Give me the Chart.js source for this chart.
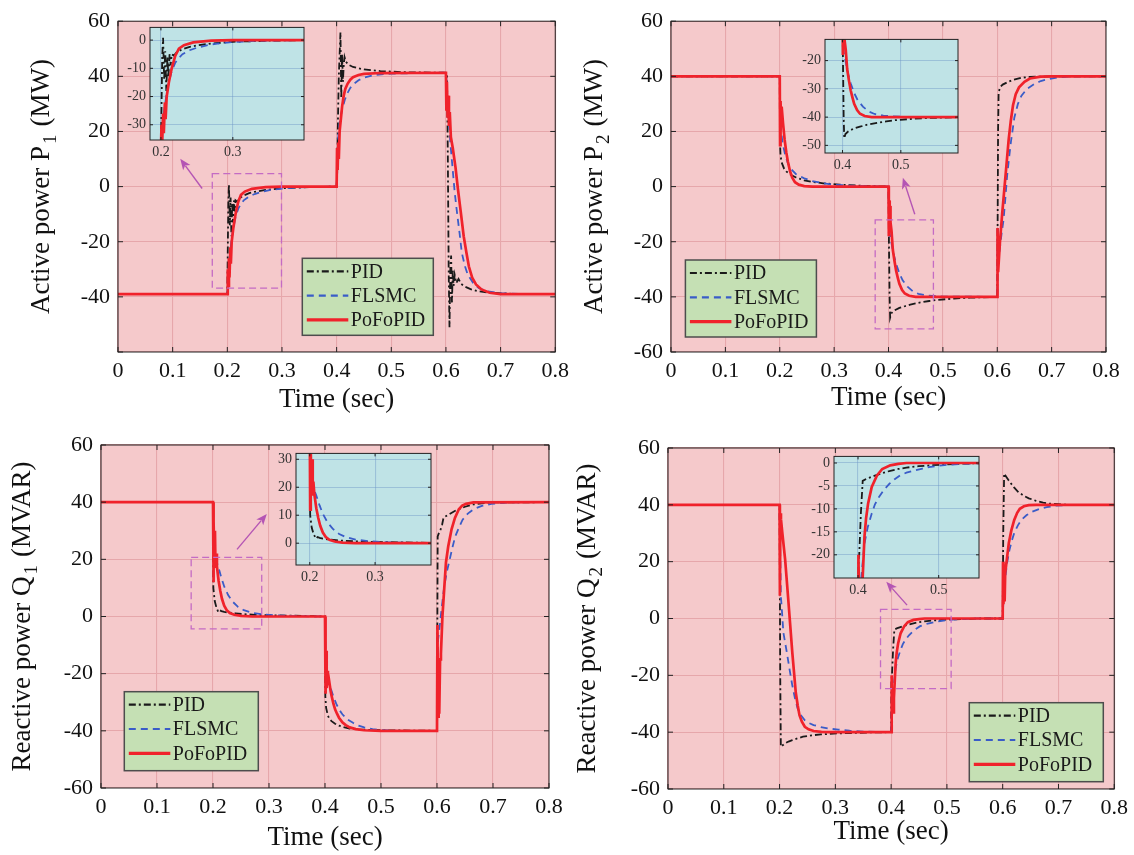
<!DOCTYPE html>
<html>
<head>
<meta charset="utf-8">
<title>Active / reactive power responses</title>
<script src="https://cdn.jsdelivr.net/npm/chart.js@4.4.1/dist/chart.umd.min.js"></script>
<style>
    html, body { margin: 0; padding: 0; background: #fff; }
    #wrap { position: relative; width: 1134px; height: 855px; overflow: hidden; }
    #wrap canvas { position: absolute; }
</style>
</head>
<body>
<div id="wrap">
    <canvas id="p1"></canvas>
    <canvas id="p2"></canvas>
    <canvas id="q1"></canvas>
    <canvas id="q2"></canvas>
    <canvas id="p1i"></canvas>
    <canvas id="p2i"></canvas>
    <canvas id="q1i"></canvas>
    <canvas id="q2i"></canvas>
</div>
<script>
// ========================================
// DATA
// ========================================
const SERIES_NAMES = ['PID', 'FLSMC', 'PoFoPID'];

const TIME_TICKS = [0, 0.1, 0.2, 0.3, 0.4, 0.5, 0.6, 0.7, 0.8];
const TIME_LABELS = ['0', '0.1', '0.2', '0.3', '0.4', '0.5', '0.6', '0.7', '0.8'];
const POWER_TICKS = [-60, -40, -20, 0, 20, 40, 60];
const POWER_LABELS = ['-60', '-40', '-20', '0', '20', '40', '60'];
const POWER_LABELS_P1 = ['', '-40', '-20', '0', '20', '40', '60'];

// Active power P1 (MW)
const P1_PID = [[0,-39],[0.2,-39],[0.2008,-24],[0.2018,-6],[0.203,0.8],[0.2045,-14],[0.206,-4],[0.2075,-18],[0.209,-6],[0.2105,-13],[0.212,-5],[0.2135,-9],[0.215,-5],[0.218,-5.5],[0.222,-4.3],[0.23,-3.2],[0.24,-2.4],[0.25,-1.9],[0.27,-1.2],[0.3,-0.6],[0.35,-0.2],[0.4,0],
    [0.401,5],[0.4025,25],[0.404,40],[0.407,56],[0.4085,32],[0.41,48],[0.4115,38],[0.413,44],[0.4145,47],[0.417,45.3],[0.422,44.2],[0.43,43.4],[0.45,42.5],[0.48,41.9],[0.52,41.5],[0.6,41.3],
    [0.602,40],[0.6035,10],[0.605,-30],[0.6065,-51],[0.608,-30],[0.6095,-25],[0.611,-42],[0.6125,-30],[0.614,-36],[0.616,-32],[0.619,-35],[0.623,-33.5],[0.628,-35.3],[0.635,-36.3],[0.645,-37.2],[0.66,-38],[0.68,-38.5],[0.72,-38.9],[0.8,-39]];
const P1_FLSMC = [[0,-39],[0.2,-39],[0.201,-34],[0.203,-29],[0.205,-24],[0.208,-19],[0.211,-15],[0.215,-11],[0.22,-8],[0.225,-6.3],[0.23,-5],[0.24,-3.6],[0.25,-2.7],[0.265,-1.8],[0.28,-1.2],[0.3,-0.7],[0.33,-0.3],[0.37,-0.1],[0.4,0],
    [0.401,8],[0.403,18],[0.406,24],[0.41,28],[0.415,31.5],[0.42,34],[0.425,35.8],[0.43,37],[0.44,38.6],[0.45,39.5],[0.47,40.5],[0.5,41],[0.55,41.2],[0.6,41.3],
    [0.601,38],[0.604,28],[0.608,16],[0.612,7],[0.616,-2],[0.62,-9],[0.625,-17],[0.629,-24],[0.635,-29],[0.64,-32],[0.65,-35],[0.66,-36.8],[0.675,-38],[0.7,-38.7],[0.74,-39],[0.8,-39]];
const P1_POFOPID = [[0,-39],[0.2,-39],[0.2008,-30],[0.2018,-36],[0.203,-26],[0.204,-33],[0.2055,-22],[0.2065,-28],[0.208,-20],[0.211,-15],[0.215,-10],[0.22,-5.5],[0.225,-3],[0.232,-1.8],[0.245,-0.8],[0.27,-0.2],[0.3,0],[0.4,0],
    [0.4008,14],[0.4018,6],[0.403,16],[0.404,10],[0.4055,20],[0.408,25],[0.41,29],[0.413,33],[0.416,35.5],[0.42,37.3],[0.425,38.8],[0.43,39.7],[0.44,40.5],[0.45,40.9],[0.48,41.2],[0.6,41.3],
    [0.6008,28],[0.6018,38],[0.603,25],[0.6042,33],[0.6055,22],[0.607,27],[0.609,18],[0.6125,14],[0.6175,7],[0.622,-1],[0.627,-9],[0.6325,-18],[0.6375,-24],[0.642,-29],[0.648,-33],[0.655,-35.5],[0.665,-37.3],[0.68,-38.5],[0.7,-39],[0.8,-39]];

// Active power P2 (MW)
const P2_PID = [[0,40],[0.2,40],[0.2004,16],[0.2015,11],[0.204,8.5],[0.208,6.5],[0.212,5.5],[0.22,4.3],[0.23,3.3],[0.245,2.3],[0.26,1.7],[0.28,1.2],[0.31,0.7],[0.35,0.3],[0.4,0],
    [0.4008,-20],[0.402,-40],[0.403,-47.5],[0.405,-46],[0.41,-45],[0.42,-44],[0.43,-43.4],[0.44,-42.8],[0.457,-42.1],[0.475,-41.5],[0.49,-41.1],[0.52,-40.6],[0.55,-40.3],[0.6,-40],
    [0.6008,-10],[0.6015,20],[0.6025,34],[0.605,36],[0.61,37],[0.62,38],[0.63,38.8],[0.645,39.5],[0.66,39.8],[0.7,40],[0.8,40]];
const P2_FLSMC = [[0,40],[0.2,40],[0.2008,30],[0.202,21],[0.205,16],[0.21,11.5],[0.215,8.5],[0.22,6.5],[0.23,4.5],[0.245,3],[0.26,2],[0.28,1.2],[0.3,0.7],[0.33,0.3],[0.37,0.1],[0.4,0],
    [0.4008,-10],[0.402,-17],[0.404,-19],[0.407,-22],[0.41,-25],[0.414,-28],[0.42,-31.5],[0.426,-34],[0.435,-36.3],[0.445,-38],[0.455,-38.9],[0.47,-39.5],[0.5,-39.9],[0.6,-40],
    [0.6008,-15],[0.602,-27],[0.605,-22],[0.608,-17],[0.6116,-12],[0.615,-4],[0.6182,4],[0.6215,10],[0.625,16],[0.6314,25],[0.638,30],[0.6446,33],[0.655,35.5],[0.668,37.2],[0.68,38.3],[0.694,39],[0.71,39.6],[0.74,40],[0.8,40]];
const P2_POFOPID = [[0,40],[0.2,40],[0.2006,15],[0.2015,31],[0.2025,22],[0.2035,29],[0.206,23],[0.209,17],[0.212,12.5],[0.215,9],[0.219,5.5],[0.223,3.2],[0.228,1.6],[0.235,0.7],[0.245,0.2],[0.26,0],[0.4,0],
    [0.4006,-18],[0.4014,-5],[0.4022,-16],[0.403,-7],[0.4037,-13],[0.4055,-16],[0.408,-23],[0.411,-27],[0.414,-30.5],[0.417,-33],[0.42,-35.3],[0.425,-37.5],[0.43,-38.8],[0.438,-39.6],[0.45,-40],[0.6,-40],
    [0.6005,-15],[0.6016,-31],[0.605,-20],[0.609,-10],[0.613,-1],[0.617,8],[0.621,17],[0.625,24],[0.629,29.5],[0.634,33.5],[0.64,36],[0.65,38],[0.66,39.2],[0.68,39.9],[0.7,40],[0.8,40]];

// Reactive power Q1 (MVAR)
const Q1_PID = [[0,40],[0.2,40],[0.2006,10],[0.203,5.5],[0.206,3.2],[0.2094,1.6],[0.212,2.2],[0.215,1.9],[0.22,1.6],[0.227,1.4],[0.24,1.1],[0.255,0.8],[0.275,0.6],[0.3,0.45],[0.34,0.3],[0.38,0.1],[0.4,0],
    [0.4006,-28],[0.402,-32],[0.4052,-34.7],[0.408,-35.8],[0.4117,-36.6],[0.418,-37.5],[0.425,-38.2],[0.435,-38.8],[0.444,-39.2],[0.46,-39.5],[0.5,-39.8],[0.6,-40],
    [0.6006,-5],[0.6012,28],[0.603,29],[0.6065,30.5],[0.609,32],[0.6117,34.6],[0.62,35.6],[0.6325,37],[0.65,38.4],[0.665,39.2],[0.68,39.6],[0.7,39.9],[0.8,40]];
const Q1_FLSMC = [[0,40],[0.2,40],[0.2012,30],[0.203,22],[0.205,20],[0.21,17],[0.215,13.5],[0.22,10.5],[0.227,7.5],[0.235,5.2],[0.245,3.3],[0.255,2.2],[0.27,1.3],[0.29,0.7],[0.32,0.3],[0.36,0.1],[0.4,0],
    [0.4008,-12],[0.402,-18],[0.405,-22],[0.41,-25],[0.415,-28],[0.42,-30.5],[0.425,-32.5],[0.431,-34.2],[0.44,-36],[0.45,-37.2],[0.46,-38.2],[0.47,-38.8],[0.485,-39.4],[0.5,-39.7],[0.53,-40],[0.6,-40],
    [0.6008,-20],[0.602,-8],[0.605,-3],[0.609,4],[0.613,10.7],[0.618,16],[0.6227,20],[0.628,24.5],[0.6325,28],[0.64,31.5],[0.6455,33.8],[0.655,36],[0.665,37.5],[0.68,38.7],[0.697,39.4],[0.72,39.8],[0.75,40],[0.8,40]];
const Q1_POFOPID = [[0,40],[0.2,40],[0.2006,12],[0.2015,33],[0.2025,20],[0.2035,30],[0.2045,17],[0.2055,22],[0.207,17.5],[0.21,12.5],[0.213,9],[0.216,6.2],[0.22,3.8],[0.2245,2.2],[0.23,1.2],[0.238,0.6],[0.25,0.2],[0.27,0],[0.4,0],
    [0.4006,-8],[0.4014,-27],[0.4022,-12],[0.403,-25],[0.404,-19],[0.4052,-23],[0.407,-22],[0.41,-26],[0.4117,-27.7],[0.415,-30.5],[0.418,-32.5],[0.4214,-34],[0.425,-35.4],[0.431,-37],[0.437,-38],[0.444,-38.8],[0.455,-39.4],[0.47,-39.8],[0.5,-40],[0.6,-40],
    [0.6008,-3],[0.6018,-35],[0.603,-20],[0.604,-34],[0.6055,-15],[0.607,-13],[0.6097,0],[0.613,10],[0.616,18.9],[0.62,24.5],[0.626,30.5],[0.632,34.5],[0.639,37.5],[0.645,38.8],[0.652,39.4],[0.665,39.9],[0.8,40]];

// Reactive power Q2 (MVAR)
const Q2_PID = [[0,40],[0.2,40],[0.2012,-20],[0.2023,-45.1],[0.205,-44.7],[0.21,-43.9],[0.216,-43.3],[0.2228,-42.8],[0.232,-42.2],[0.242,-41.6],[0.258,-41.1],[0.274,-40.8],[0.29,-40.6],[0.306,-40.4],[0.33,-40.3],[0.36,-40.1],[0.4,-40],
    [0.4005,-22],[0.4015,-20],[0.4035,-11],[0.4058,-3.9],[0.41,-3.5],[0.42,-2.8],[0.43,-2.2],[0.44,-1.7],[0.45,-1.3],[0.46,-1],[0.475,-0.7],[0.49,-0.5],[0.51,-0.3],[0.53,-0.15],[0.56,0],[0.6,0],
    [0.601,30],[0.6026,51],[0.606,50],[0.61,48.8],[0.6146,47.6],[0.62,46.2],[0.6275,44.6],[0.637,43.3],[0.6468,42.3],[0.66,41.4],[0.6725,40.8],[0.685,40.4],[0.7,40.2],[0.72,40],[0.8,40]];
const Q2_FLSMC = [[0,40],[0.2,40],[0.2023,8],[0.2045,2],[0.2068,-4.9],[0.21,-8.5],[0.213,-11.9],[0.218,-18],[0.2228,-23.5],[0.2275,-28],[0.2325,-31.7],[0.239,-34.2],[0.2453,-35.8],[0.253,-36.8],[0.261,-37.5],[0.274,-38.2],[0.287,-38.7],[0.305,-39.1],[0.3256,-39.5],[0.35,-39.8],[0.4,-40],
    [0.4015,-30],[0.404,-25],[0.408,-17.5],[0.412,-14],[0.417,-11],[0.421,-9],[0.426,-7.4],[0.432,-5.9],[0.439,-4.5],[0.445,-3.6],[0.452,-2.7],[0.46,-2.1],[0.47,-1.6],[0.48,-1.2],[0.488,-0.9],[0.5,-0.6],[0.51,-0.4],[0.53,-0.2],[0.56,0],[0.6,0],
    [0.602,10],[0.605,15],[0.6079,19.6],[0.612,24],[0.6165,27.5],[0.6207,30.1],[0.627,32.7],[0.6336,34.7],[0.643,36.4],[0.653,37.6],[0.665,38.5],[0.679,39.2],[0.695,39.7],[0.711,39.9],[0.75,40],[0.8,40]];
const Q2_POFOPID = [[0,40],[0.2,40],[0.2006,8],[0.2015,37],[0.2025,35],[0.205,30],[0.21,20.7],[0.2165,4.4],[0.2228,-11.9],[0.229,-25.9],[0.2325,-30.5],[0.2357,-34],[0.24,-36.3],[0.2453,-38.1],[0.252,-39],[0.261,-39.6],[0.275,-39.9],[0.29,-40],[0.4,-40],
    [0.4005,-20],[0.4015,-34],[0.4025,-28],[0.4035,-33],[0.405,-28],[0.4065,-22],[0.408,-16],[0.41,-12],[0.4125,-8.8],[0.417,-5.2],[0.4235,-2.7],[0.43,-1.3],[0.44,-0.5],[0.45,-0.2],[0.46,0],[0.6,0],
    [0.6006,20],[0.6014,5],[0.6025,13],[0.6035,6],[0.6045,16],[0.611,26.6],[0.6155,31],[0.6207,34.7],[0.626,37.2],[0.6307,38.6],[0.638,39.5],[0.6468,39.9],[0.66,40],[0.8,40]];

// Inset axes: visible window and ticks
const P1_INSET_X = [0.1848, 0.399];
const P1_INSET_Y = [-35.4, 4.5];
const P2_INSET_X = [0.37, 0.598];
const P2_INSET_Y = [-52.7, -12.5];
const Q1_INSET_X = [0.1789, 0.3856];
const Q1_INSET_Y = [-7.8, 32.1];
const Q2_INSET_X = [0.3702, 0.55];
const Q2_INSET_Y = [-25.05, 1.44];

const INSET_X_TICKS_A = [0.2, 0.3];
const INSET_X_LABELS_A = ['0.2', '0.3'];
const INSET_X_TICKS_B = [0.4, 0.5];
const INSET_X_LABELS_B = ['0.4', '0.5'];
const P1_INSET_TICKS = [-30, -20, -10, 0];
const P1_INSET_LABELS = ['-30', '-20', '-10', '0'];
const P2_INSET_TICKS = [-50, -40, -30, -20];
const P2_INSET_LABELS = ['-50', '-40', '-30', '-20'];
const Q1_INSET_TICKS = [0, 10, 20, 30];
const Q1_INSET_LABELS = ['0', '10', '20', '30'];
const Q2_INSET_TICKS = [-20, -15, -10, -5, 0];
const Q2_INSET_LABELS = ['-20', '-15', '-10', '-5', '0'];

// Dashed zoom boxes [x0, x1, y0, y1] and arrows [x0, y0, x1, y1], data units
const P1_ZOOM_BOX = [0.1725, 0.2991, -36.8, 4.7];
const P1_ARROW = [0.1539, -0.7, 0.1139, 10.1];
const P2_ZOOM_BOX = [0.3755, 0.4826, -51.6, -12.1];
const P2_ARROW = [0.4483, -10, 0.4264, 3.2];
const Q1_ZOOM_BOX = [0.161, 0.287, -4.3, 20.7];
const Q1_ARROW = [0.2429, 23.5, 0.2961, 35.9];
const Q2_ZOOM_BOX = [0.381, 0.5076, -24.7, 3.2];
const Q2_ARROW = [0.4286, 4.7, 0.3913, 12.9];

// ========================================
// STYLE
// ========================================
const SERIF = '"Liberation Serif", "Times New Roman", serif';
const LINE_STYLES = [
    { color: '#1a1a1a', width: 1.8, dash: [7, 3, 2, 3] },
    { color: '#3a5cc8', width: 1.8, dash: [7, 5] },
    { color: '#f0222b', width: 2.7, dash: [] }
];
const PLOT_BG = '#f5c9cb';
const PLOT_GRID = '#e6a7ab';
const INSET_BG = '#bfe3e6';
const INSET_GRID = 'rgba(110, 150, 200, 0.45)';
const ZOOM_COLOR = '#c46bc4';
const ARROW_COLOR = '#b455b4';

// per-canvas decoration settings, filled by the builders
const DECOR = {};

// ========================================
// PLUGIN: background, frame, inward ticks, zoom box, arrow, legend, y title
// ========================================
const decorPlugin = {
    id: 'decor',
    beforeDraw(chart) {
        const d = DECOR[chart.canvas.id];
        const a = chart.chartArea;
        const ctx = chart.ctx;
        ctx.save();
        ctx.fillStyle = d.bg;
        ctx.fillRect(a.left, a.top, a.right - a.left, a.bottom - a.top);
        ctx.restore();
    },
    afterDatasetsDraw(chart) {
        const d = DECOR[chart.canvas.id];
        const a = chart.chartArea;
        const ctx = chart.ctx;
        const sx = chart.scales.x;
        const sy = chart.scales.y;

        ctx.save();
        // frame
        ctx.strokeStyle = '#222';
        ctx.lineWidth = 1;
        ctx.setLineDash([]);
        ctx.strokeRect(a.left, a.top, a.right - a.left, a.bottom - a.top);

        // inward tick marks on all four sides
        const tl = d.tickLen;
        ctx.beginPath();
        sx.ticks.forEach(t => {
            const px = sx.getPixelForValue(t.value);
            ctx.moveTo(px, a.bottom); ctx.lineTo(px, a.bottom - tl);
            ctx.moveTo(px, a.top); ctx.lineTo(px, a.top + tl);
        });
        sy.ticks.forEach(t => {
            const py = sy.getPixelForValue(t.value);
            ctx.moveTo(a.left, py); ctx.lineTo(a.left + tl, py);
            ctx.moveTo(a.right, py); ctx.lineTo(a.right - tl, py);
        });
        ctx.stroke();

        // dashed zoom box
        if (d.zoomBox) {
            const [x0, x1, y0, y1] = d.zoomBox;
            const l = sx.getPixelForValue(x0), r = sx.getPixelForValue(x1);
            const t = sy.getPixelForValue(y1), b = sy.getPixelForValue(y0);
            ctx.strokeStyle = ZOOM_COLOR;
            ctx.lineWidth = 1.3;
            ctx.setLineDash([7, 4]);
            ctx.strokeRect(l, t, r - l, b - t);
            ctx.setLineDash([]);
        }

        // arrow pointing to the inset
        if (d.arrow) {
            const [ax0, ay0, ax1, ay1] = d.arrow;
            const p0x = sx.getPixelForValue(ax0), p0y = sy.getPixelForValue(ay0);
            const p1x = sx.getPixelForValue(ax1), p1y = sy.getPixelForValue(ay1);
            const ang = Math.atan2(p1y - p0y, p1x - p0x);
            const len = 11, half = 4.5;
            ctx.strokeStyle = ARROW_COLOR;
            ctx.fillStyle = ARROW_COLOR;
            ctx.lineWidth = 1.4;
            ctx.beginPath();
            ctx.moveTo(p0x, p0y);
            ctx.lineTo(p1x - Math.cos(ang) * len * 0.8, p1y - Math.sin(ang) * len * 0.8);
            ctx.stroke();
            ctx.beginPath();
            ctx.moveTo(p1x, p1y);
            ctx.lineTo(p1x - Math.cos(ang) * len + Math.sin(ang) * half, p1y - Math.sin(ang) * len - Math.cos(ang) * half);
            ctx.lineTo(p1x - Math.cos(ang) * len * 0.75, p1y - Math.sin(ang) * len * 0.75);
            ctx.lineTo(p1x - Math.cos(ang) * len - Math.sin(ang) * half, p1y - Math.sin(ang) * len + Math.cos(ang) * half);
            ctx.closePath();
            ctx.fill();
        }

        // legend box
        if (d.legend) {
            const [lx, ly, lw, lh] = d.legend;
            ctx.fillStyle = '#c5e0b4';
            ctx.fillRect(lx, ly, lw, lh);
            ctx.strokeStyle = '#4d4d4d';
            ctx.lineWidth = 1.5;
            ctx.strokeRect(lx, ly, lw, lh);
            ctx.font = '20px ' + SERIF;
            ctx.textBaseline = 'middle';
            ctx.textAlign = 'left';
            SERIES_NAMES.forEach((name, i) => {
                const st = LINE_STYLES[i];
                const yy = ly + 13 + i * 24.3;
                ctx.strokeStyle = st.color;
                ctx.lineWidth = st.width + (i === 2 ? 0.6 : 0.4);
                ctx.setLineDash(st.dash);
                ctx.beginPath();
                ctx.moveTo(lx + 4.5, yy);
                ctx.lineTo(lx + 46, yy);
                ctx.stroke();
                ctx.setLineDash([]);
                ctx.fillStyle = '#1a1a1a';
                ctx.fillText(name, lx + 48.5, yy + 1);
            });
        }
        ctx.restore();
    },
    afterDraw(chart) {
        const d = DECOR[chart.canvas.id];
        if (!d.yTitle) return;
        const a = chart.chartArea;
        const ctx = chart.ctx;
        const [main, sub, unit, dx] = d.yTitle;
        const big = '27px ' + SERIF;
        const small = '19px ' + SERIF;
        ctx.save();
        ctx.translate(a.left - dx, (a.top + a.bottom) / 2);
        ctx.rotate(-Math.PI / 2);
        ctx.fillStyle = '#111';
        ctx.textBaseline = 'middle';
        ctx.textAlign = 'left';
        ctx.font = big;
        const w1 = ctx.measureText(main).width;
        const w3 = ctx.measureText(unit).width;
        ctx.font = small;
        const w2 = ctx.measureText(sub).width;
        let x = -(w1 + 2 + w2 + 8 + w3) / 2;
        ctx.font = big;
        ctx.fillText(main, x, 0);
        x += w1 + 2;
        ctx.font = small;
        ctx.fillText(sub, x, 9);
        x += w2 + 8;
        ctx.font = big;
        ctx.fillText(unit, x, 0);
        ctx.restore();
    }
};

// ========================================
// BUILDERS
// ========================================
function toPoints(pairs) {
    return pairs.map(p => ({ x: p[0], y: p[1] }));
}

function makeDatasets(series) {
    return series.map((pairs, i) => ({
        label: SERIES_NAMES[i],
        data: toPoints(pairs),
        borderColor: LINE_STYLES[i].color,
        borderWidth: LINE_STYLES[i].width,
        borderDash: LINE_STYLES[i].dash,
        pointRadius: 0,
        tension: 0,
        fill: false,
        order: 2 - i
    }));
}

function placeCanvas(id, box) {
    const c = document.getElementById(id);
    c.style.left = box[0] + 'px';
    c.style.top = box[1] + 'px';
    c.width = box[2];
    c.height = box[3];
    return c;
}

// box: [left, top, width, height] of canvas, area: [left, top, right, bottom] of plot, page px
function buildChart(id, cfg) {
    const box = cfg.box, area = cfg.area;
    const c = placeCanvas(id, box);
    const yWidth = area[0] - box[0];
    const xHeight = box[1] + box[3] - area[3];

    DECOR[id] = {
        bg: cfg.bg,
        tickLen: cfg.tickLen,
        zoomBox: cfg.zoomBox || null,
        arrow: cfg.arrow || null,
        legend: cfg.legend ? [cfg.legend[0] - box[0], cfg.legend[1] - box[1], cfg.legend[2], cfg.legend[3]] : null,
        yTitle: cfg.yTitle || null
    };

    const tickFont = { family: SERIF, size: cfg.tickSize };

    return new Chart(c, {
        type: 'line',
        data: { datasets: makeDatasets(cfg.series) },
        options: {
            responsive: false,
            animation: false,
            devicePixelRatio: 1,
            events: [],
            layout: {
                padding: { left: 0, top: area[1] - box[1], right: box[0] + box[2] - area[2], bottom: 0 }
            },
            plugins: {
                legend: { display: false },
                tooltip: { enabled: false }
            },
            scales: {
                x: {
                    type: 'linear',
                    min: cfg.xRange[0],
                    max: cfg.xRange[1],
                    afterFit: s => { s.height = xHeight; },
                    afterBuildTicks: s => { s.ticks = cfg.xTicks.map(v => ({ value: v })); },
                    ticks: {
                        autoSkip: false,
                        maxRotation: 0,
                        padding: cfg.xPad,
                        color: cfg.tickColor,
                        font: tickFont,
                        callback: (v, i) => cfg.xLabels[i]
                    },
                    grid: { color: cfg.grid, lineWidth: 1.1, drawTicks: false },
                    border: { display: false },
                    title: cfg.xTitle ? {
                        display: true,
                        text: cfg.xTitle,
                        color: '#111',
                        font: { family: SERIF, size: 27 },
                        padding: { top: 0, bottom: cfg.xTitlePad }
                    } : { display: false }
                },
                y: {
                    type: 'linear',
                    min: cfg.yRange[0],
                    max: cfg.yRange[1],
                    afterFit: s => { s.width = yWidth; },
                    afterBuildTicks: s => { s.ticks = cfg.yTicks.map(v => ({ value: v })); },
                    ticks: {
                        autoSkip: false,
                        padding: cfg.yPad,
                        color: cfg.tickColor,
                        font: tickFont,
                        callback: (v, i) => cfg.yLabels[i]
                    },
                    grid: { color: cfg.grid, lineWidth: 1.1, drawTicks: false },
                    border: { display: false }
                }
            }
        },
        plugins: [decorPlugin]
    });
}

function mainChart(id, box, area, series, yLabels, extra) {
    return buildChart(id, Object.assign({
        box: box,
        area: area,
        series: series,
        bg: PLOT_BG,
        grid: PLOT_GRID,
        tickLen: 5,
        tickSize: 22,
        tickColor: '#111',
        xRange: [0, 0.8],
        yRange: [-60, 60],
        xTicks: TIME_TICKS,
        xLabels: TIME_LABELS,
        yTicks: POWER_TICKS,
        yLabels: yLabels,
        xPad: 6,
        yPad: 8,
        xTitle: 'Time (sec)'
    }, extra));
}

function insetChart(id, area, series, xRange, yRange, xTicks, xLabels, yTicks, yLabels) {
    const box = [area[0] - 44, area[1] - 12, area[2] - area[0] + 54, area[3] - area[1] + 38];
    return buildChart(id, {
        box: box,
        area: area,
        series: series,
        bg: INSET_BG,
        grid: INSET_GRID,
        tickLen: 3,
        tickSize: 14,
        tickColor: '#333',
        xRange: xRange,
        yRange: yRange,
        xTicks: xTicks,
        xLabels: xLabels,
        yTicks: yTicks,
        yLabels: yLabels,
        xPad: 4,
        yPad: 4,
        xTitle: null
    });
}

// ========================================
// INITIALIZE
// ========================================
const P1_SERIES = [P1_PID, P1_FLSMC, P1_POFOPID];
const P2_SERIES = [P2_PID, P2_FLSMC, P2_POFOPID];
const Q1_SERIES = [Q1_PID, Q1_FLSMC, Q1_POFOPID];
const Q2_SERIES = [Q2_PID, Q2_FLSMC, Q2_POFOPID];

mainChart('p1', [0, 0, 575, 420], [118, 18, 555.5, 352], P1_SERIES, POWER_LABELS_P1, {
    xTitlePad: 4, zoomBox: P1_ZOOM_BOX, arrow: P1_ARROW,
    legend: [302.3, 258.3, 131, 77], yTitle: ['Active power P', '1', '(MW)', 76]
});
mainChart('p2', [570, 0, 564, 420], [671, 19.5, 1106, 352], P2_SERIES, POWER_LABELS, {
    xTitlePad: 6, zoomBox: P2_ZOOM_BOX, arrow: P2_ARROW,
    legend: [685.4, 260, 131, 77], yTitle: ['Active power P', '2', '(MW)', 76]
});
mainChart('q1', [0, 420, 575, 435], [101, 445, 549, 788], Q1_SERIES, POWER_LABELS, {
    xTitlePad: 1, zoomBox: Q1_ZOOM_BOX, arrow: Q1_ARROW,
    legend: [124.3, 691.7, 134, 79], yTitle: ['Reactive power Q', '1', '(MVAR)', 78]
});
mainChart('q2', [570, 420, 564, 435], [668, 448, 1115, 789], Q2_SERIES, POWER_LABELS, {
    xTitlePad: 7, zoomBox: Q2_ZOOM_BOX, arrow: Q2_ARROW,
    legend: [969.3, 702.7, 134, 79], yTitle: ['Reactive power Q', '2', '(MVAR)', 80]
});

insetChart('p1i', [149.7, 27.3, 304.2, 140.3], P1_SERIES, P1_INSET_X, P1_INSET_Y,
    INSET_X_TICKS_A, INSET_X_LABELS_A, P1_INSET_TICKS, P1_INSET_LABELS);
insetChart('p2i', [824.8, 39.3, 958.6, 153.3], P2_SERIES, P2_INSET_X, P2_INSET_Y,
    INSET_X_TICKS_B, INSET_X_LABELS_B, P2_INSET_TICKS, P2_INSET_LABELS);
insetChart('q1i', [296.3, 453.3, 431.5, 566], Q1_SERIES, Q1_INSET_X, Q1_INSET_Y,
    INSET_X_TICKS_A, INSET_X_LABELS_A, Q1_INSET_TICKS, Q1_INSET_LABELS);
insetChart('q2i', [833.9, 456, 979.3, 578.3], Q2_SERIES, Q2_INSET_X, Q2_INSET_Y,
    INSET_X_TICKS_B, INSET_X_LABELS_B, Q2_INSET_TICKS, Q2_INSET_LABELS);
</script>
</body>
</html>
